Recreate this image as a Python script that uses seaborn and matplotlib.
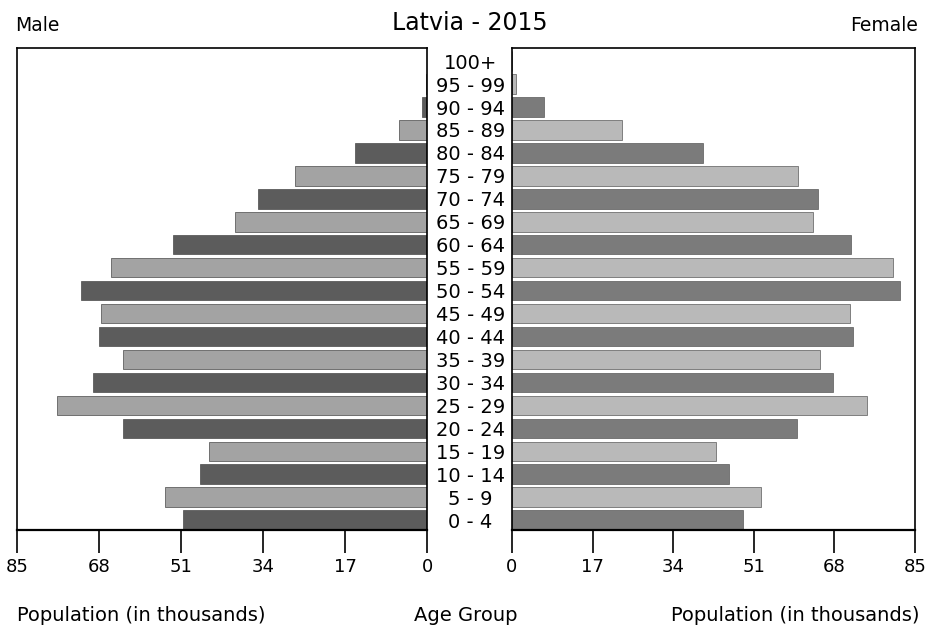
import numpy as np
import pandas as pd
import matplotlib
matplotlib.use('Agg')
import matplotlib.pyplot as plt
import seaborn as sns
sns.set_theme(style="white")
plt.rcParams['font.family'] = ['DejaVu Sans']
plt.rcParams['text.color'] = 'black'
plt.rcParams['xtick.color'] = 'black'
plt.rcParams['ytick.color'] = 'black'

# age groups from top (oldest) to bottom (youngest)
ages = ['100+', '95 - 99', '90 - 94', '85 - 89', '80 - 84', '75 - 79', '70 - 74',
        '65 - 69', '60 - 64', '55 - 59', '50 - 54', '45 - 49', '40 - 44', '35 - 39',
        '30 - 34', '25 - 29', '20 - 24', '15 - 19', '10 - 14', '5 - 9', '0 - 4']
male = [0.1, 0.3, 1.0, 5.8, 14.9, 27.4, 35.0, 39.8, 52.7, 65.5, 71.7, 67.6, 68.0,
        63.0, 69.2, 76.7, 63.0, 45.2, 47.1, 54.3, 50.6]
female = [0.1, 0.8, 6.8, 23.2, 40.3, 60.3, 64.6, 63.5, 71.5, 80.4, 81.9, 71.3, 71.9,
          65.0, 67.7, 74.9, 60.1, 43.0, 45.8, 52.5, 48.7]
ticks = [0, 17, 34, 51, 68, 85]

df = pd.DataFrame({'age': ages, 'male': male, 'female': female})

male_pal = ['#5c5c5c' if i % 2 == 0 else '#a3a3a3' for i in range(len(ages))]
female_pal = ['#7b7b7b' if i % 2 == 0 else '#b9b9b9' for i in range(len(ages))]

fig = plt.figure(figsize=(9.36, 6.27), dpi=100)
ax_m = fig.add_axes([0.0182, 0.1547, 0.438, 0.7687])
ax_f = fig.add_axes([0.547, 0.1547, 0.4306, 0.7687])

sns.barplot(data=df, x='male', y='age', hue='age', palette=male_pal, order=ages,
            orient='h', width=0.85, legend=False, ax=ax_m,
            edgecolor='#4a4a4a', linewidth=0.5)
sns.barplot(data=df, x='female', y='age', hue='age', palette=female_pal, order=ages,
            orient='h', width=0.85, legend=False, ax=ax_f,
            edgecolor='#5a5a5a', linewidth=0.5)

ax_m.set_xlim(85, 0)
ax_f.set_xlim(0, 85)
for ax in (ax_m, ax_f):
    ax.set_ylim(len(ages) - 1 + 0.43, -0.57)
    ax.set_xticks(ticks)
    ax.set_xticklabels([str(t) for t in ticks], fontsize=13)
    ax.tick_params(axis='x', direction='out', length=16.5, width=1.2, pad=4,
                   bottom=True, colors='black')
    ax.set_xlabel('')
    ax.set_ylabel('')
    for s in ax.spines.values():
        s.set_color('black')
        s.set_linewidth(1.2)
    ax.spines['bottom'].set_linewidth(1.6)

ax_m.set_yticks([])
ax_f.tick_params(axis='y', length=0, pad=30, labelsize=14, left=False)
for lbl in ax_f.get_yticklabels():
    lbl.set_ha('center')

fig.text(0.016, 0.96, 'Male', fontsize=13.5, ha='left', va='center')
fig.text(0.981, 0.96, 'Female', fontsize=13.5, ha='right', va='center')
fig.text(0.502, 0.964, 'Latvia - 2015', fontsize=17, ha='center', va='center')
fig.text(0.018, 0.019, 'Population (in thousands)', fontsize=14, ha='left', va='center')
fig.text(0.498, 0.019, 'Age Group', fontsize=14, ha='center', va='center')
fig.text(0.982, 0.019, 'Population (in thousands)', fontsize=14, ha='right', va='center')

plt.savefig('out.png', dpi=100)
